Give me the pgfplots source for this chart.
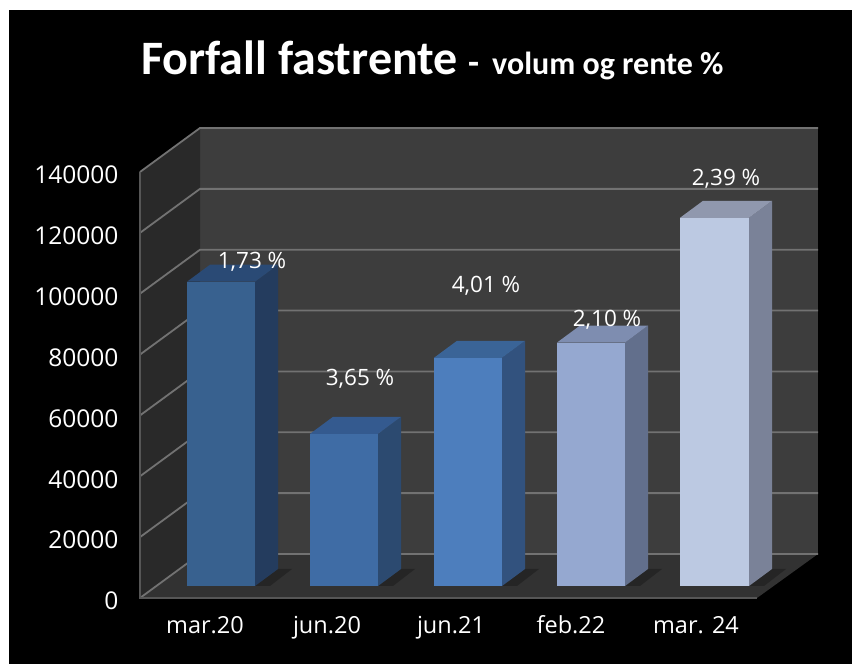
\documentclass[border=0pt]{standalone}
\usepackage{pgfplots}
\pgfplotsset{compat=1.18}
\usepackage{fontspec}
\setmainfont{Open Sans}
\newfontfamily\titlefont{Carlito}
\definecolor{wallback}{HTML}{3D3D3D}
\definecolor{wallside}{HTML}{292929}
\definecolor{wallfloor}{HTML}{323232}
\definecolor{gridc}{HTML}{727272}
\definecolor{shadow}{HTML}{252525}
\definecolor{aF}{HTML}{38618F}\definecolor{aS}{HTML}{243C5E}\definecolor{aT}{HTML}{2A4A75}
\definecolor{bF}{HTML}{3F6CA5}\definecolor{bS}{HTML}{2C4A70}\definecolor{bT}{HTML}{345A8F}
\definecolor{cF}{HTML}{4D7EBD}\definecolor{cS}{HTML}{32527E}\definecolor{cT}{HTML}{3A6497}
\definecolor{dF}{HTML}{95A8D0}\definecolor{dS}{HTML}{626F8C}\definecolor{dT}{HTML}{7E8DB0}
\definecolor{eF}{HTML}{BCC9E2}\definecolor{eS}{HTML}{7A8298}\definecolor{eT}{HTML}{9098AE}
\tikzset{vlab/.style={text=white,font=\fontsize{22.5}{24}\selectfont,inner sep=0pt,yshift=-2pt}}
\begin{document}
\begin{tikzpicture}[x=1pt,y=1pt]
\fill[white] (0,0) rectangle (852,664);
\fill[black] (9,0) rectangle (852,654);
\node[anchor=base west,text=white,inner sep=0pt] at (141,589)
  {\titlefont\bfseries\fontsize{48}{50}\selectfont Forfall fastrente};
\node[anchor=base west,text=white,inner sep=0pt] at (468,589)
  {\titlefont\bfseries\fontsize{36}{40}\selectfont -};
\node[anchor=base west,text=white,inner sep=0pt] at (492,589)
  {\titlefont\bfseries\fontsize{32}{34}\selectfont volum og rente \%};
% frame axis: value axis in the front plane
\begin{axis}[
  at={(140pt,66pt)},anchor=south west,scale only axis,width=617pt,height=426pt,
  xmin=140,xmax=757,ymin=0,ymax=140000,clip=false,
  axis line style={draw=none},tick style={draw=none},
  ytick={0,20000,40000,60000,80000,100000,120000,140000},
  xtick={205,327,451,571,696},
  xticklabels={mar.20,jun.20,jun.21,feb.22,mar. 24},
  scaled y ticks=false,
  /pgf/number format/assume math mode=true,
  /pgf/number format/1000 sep={},/pgf/number format/fixed,
  tick label style={text=white,font=\fontsize{24.5}{26}\selectfont},
  yticklabel style={anchor=east,xshift=-18pt,yshift=-3pt},
  xticklabel style={font=\fontsize{23.5}{26}\selectfont,anchor=center,text height=17pt,text depth=5pt,yshift=-30pt},
]
\addplot[fill=wallback,draw=none] coordinates {(200,14460) (818,14460) (818,154460) (200,154460)} --cycle;
\addplot[fill=wallside,draw=none] coordinates {(140,0) (200,14460) (200,154460) (140,140000)} --cycle;
\addplot[fill=wallfloor,draw=none] coordinates {(140,0) (757,0) (818,14460) (200,14460)} --cycle;
\addplot[gridc,line width=1.8pt] coordinates {(140,20000) (200,34460) (818,34460)};
\addplot[gridc,line width=1.8pt] coordinates {(140,40000) (200,54460) (818,54460)};
\addplot[gridc,line width=1.8pt] coordinates {(140,60000) (200,74460) (818,74460)};
\addplot[gridc,line width=1.8pt] coordinates {(140,80000) (200,94460) (818,94460)};
\addplot[gridc,line width=1.8pt] coordinates {(140,100000) (200,114460) (818,114460)};
\addplot[gridc,line width=1.8pt] coordinates {(140,120000) (200,134460) (818,134460)};
\addplot[gridc,line width=1.8pt] coordinates {(140,140000) (200,154460) (818,154460)};
\addplot[gridc,line width=1.8pt] coordinates {(140,0) (200,14460) (818,14460)};
\addplot[gridc!120!white,line width=2pt] coordinates {(140,140000) (140,0) (757,0)};
\end{axis}
% bars: same scale, standing 12 px behind the front plane
\begin{axis}[
  at={(140pt,78pt)},anchor=south west,scale only axis,width=617pt,height=426pt,
  xmin=140,xmax=757,ymin=0,ymax=140000,clip=false,
  axis line style={draw=none},tick style={draw=none},xtick=\empty,ytick=\empty,
]
\addplot[fill=shadow,draw=none] coordinates {(255,0) (278,5590) (292,5590) (270,0)} --cycle;
\addplot[fill=shadow,draw=none] coordinates {(378,0) (401,5590) (415,5590) (393,0)} --cycle;
\addplot[fill=shadow,draw=none] coordinates {(502,0) (525,5590) (539,5590) (517,0)} --cycle;
\addplot[fill=shadow,draw=none] coordinates {(625,0) (648,5590) (662,5590) (640,0)} --cycle;
\addplot[fill=shadow,draw=none] coordinates {(749,0) (772,5590) (786,5590) (764,0)} --cycle;
% mar.20 = 100000
\addplot[fill=aS,draw=none] coordinates {(255,0) (278,5590) (278,105590) (255,100000)} --cycle;
\addplot[fill=aT,draw=none] coordinates {(187,100000) (255,100000) (278,105590) (210,105590)} --cycle;
\addplot[fill=aF,draw=none] coordinates {(187,0) (255,0) (255,100000) (187,100000)} --cycle;
% jun.20 = 50000
\addplot[fill=bS,draw=none] coordinates {(378,0) (401,5590) (401,55590) (378,50000)} --cycle;
\addplot[fill=bT,draw=none] coordinates {(310,50000) (378,50000) (401,55590) (333,55590)} --cycle;
\addplot[fill=bF,draw=none] coordinates {(310,0) (378,0) (378,50000) (310,50000)} --cycle;
% jun.21 = 75000
\addplot[fill=cS,draw=none] coordinates {(502,0) (525,5590) (525,80590) (502,75000)} --cycle;
\addplot[fill=cT,draw=none] coordinates {(434,75000) (502,75000) (525,80590) (457,80590)} --cycle;
\addplot[fill=cF,draw=none] coordinates {(434,0) (502,0) (502,75000) (434,75000)} --cycle;
% feb.22 = 80000
\addplot[fill=dS,draw=none] coordinates {(625,0) (648,5590) (648,85590) (625,80000)} --cycle;
\addplot[fill=dT,draw=none] coordinates {(557,80000) (625,80000) (648,85590) (580,85590)} --cycle;
\addplot[fill=dF,draw=none] coordinates {(557,0) (625,0) (625,80000) (557,80000)} --cycle;
% mar.24 = 121000
\addplot[fill=eS,draw=none] coordinates {(749,0) (772,5590) (772,126590) (749,121000)} --cycle;
\addplot[fill=eT,draw=none] coordinates {(680,121000) (749,121000) (772,126590) (703,126590)} --cycle;
\addplot[fill=eF,draw=none] coordinates {(680,0) (749,0) (749,121000) (680,121000)} --cycle;
\node[vlab] at (axis cs:252,107130) {1,73 \%};
\node[vlab] at (axis cs:360,68680) {3,65 \%};
\node[vlab] at (axis cs:486,99240) {4,01 \%};
\node[vlab] at (axis cs:607,88070) {2,10 \%};
\node[vlab] at (axis cs:726,134400) {2,39 \%};
\end{axis}
\end{tikzpicture}
\end{document}
